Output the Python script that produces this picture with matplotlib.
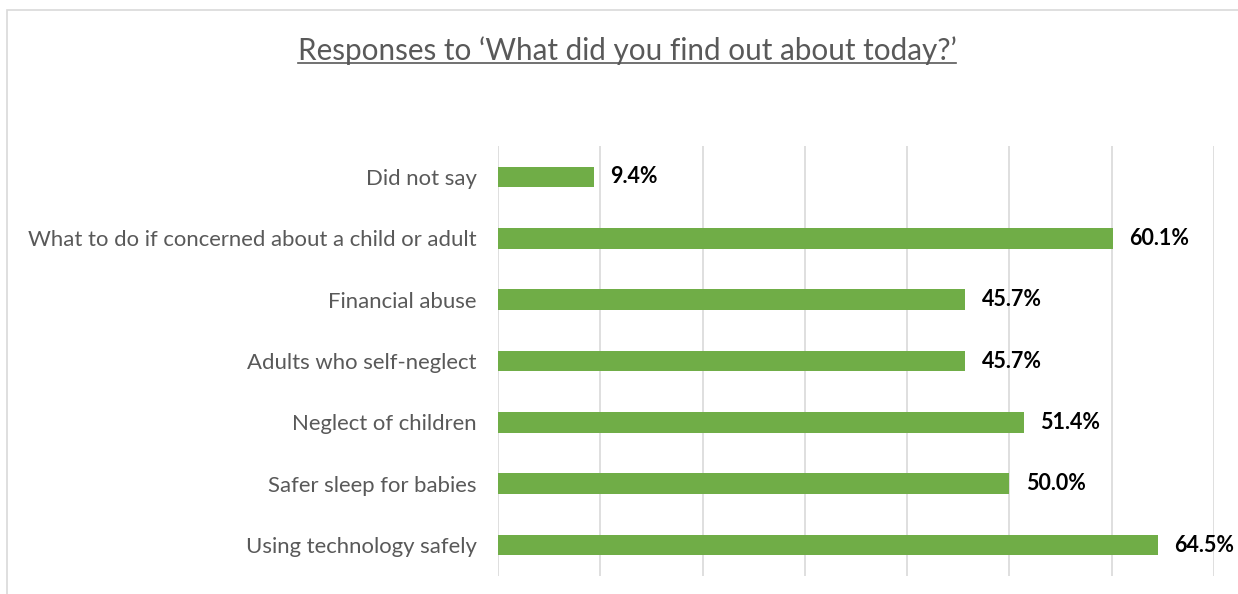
import matplotlib
matplotlib.use("Agg")
import matplotlib.pyplot as plt
from matplotlib.patches import Rectangle
from matplotlib.lines import Line2D

plt.rcParams['font.family'] = ['Lato', 'DejaVu Sans']

categories = ['Did not say',
              'What to do if concerned about a child or adult',
              'Financial abuse',
              'Adults who self-neglect',
              'Neglect of children',
              'Safer sleep for babies',
              'Using technology safely']
values = [9.4, 60.1, 45.7, 45.7, 51.4, 50.0, 64.5]
title = 'Responses to \u2018What did you find out about today?\u2019'

fig = plt.figure(figsize=(12.38, 5.94), dpi=100)
ax = fig.add_axes([0.4023, 0.0308, 0.9806 - 0.4023, 0.7537 - 0.0308])

# outer chart frame
fig.patches.append(Rectangle((7/1238, -0.1), 1.2, 1 - 10/594 + 0.1,
                             transform=fig.transFigure, fill=False,
                             edgecolor='#d9d9d9', lw=1.2))

ypos = list(range(len(categories)))[::-1]
ax.barh(ypos, values, height=0.34, color='#70ad47', zorder=3)
for y, v in zip(ypos, values):
    ax.text(v + 1.6, y, f'{v:.1f}%', va='center', ha='left',
            fontsize=15.5, fontweight='bold', color='black')

ax.set_xlim(0, 70)
ax.set_ylim(-0.5, 6.5)
ax.set_xticks(range(0, 71, 10))
ax.xaxis.grid(True, color='#d9d9d9', lw=1.2, zorder=0)
ax.tick_params(axis='x', bottom=False, labelbottom=False)
ax.set_yticks(ypos)
ax.set_yticklabels(categories, fontsize=15.9, color='#595959')
ax.tick_params(axis='y', length=0, pad=15.5)
for s in ax.spines.values():
    s.set_visible(False)

t = fig.text(0.5065, 1 - 51/594, title, ha='center', va='center',
             fontsize=21.3, color='#595959')
fig.canvas.draw()
bb = t.get_window_extent().transformed(fig.transFigure.inverted())
fig.add_artist(Line2D([bb.x0, bb.x1], [bb.y0 + 0.004, bb.y0 + 0.004],
                      transform=fig.transFigure, color='#595959', lw=1.2))

fig.savefig('out.png', dpi=100)
